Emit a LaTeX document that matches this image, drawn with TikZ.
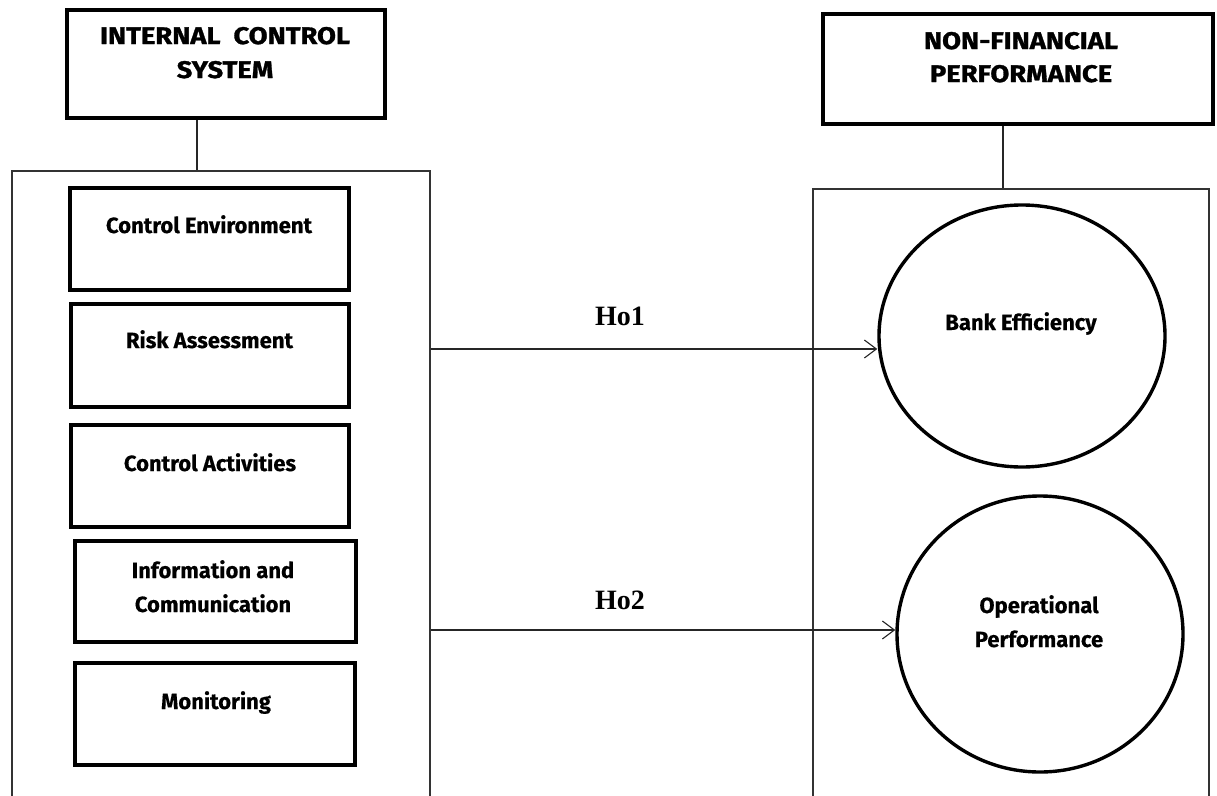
\documentclass[tikz,border=0pt]{standalone}
\usepackage{fontspec}
\usetikzlibrary{arrows.meta,shapes.geometric}
\newfontfamily\hdfont[FakeStretch=1.14,FakeBold=1.2]{Fira Sans}
\newfontfamily\lblfont[FakeBold=0.4]{Fira Sans}
\newfontfamily\hofont{Liberation Serif}
\begin{document}
\begin{tikzpicture}[x=1pt,y=-1pt,
  thickbox/.style={draw=black,line width=3.8pt,rectangle,inner sep=0pt},
  outerbox/.style={draw=black!80,line width=1.3pt,rectangle,inner sep=0pt},
  ell/.style={draw=black,line width=3.4pt,ellipse,inner sep=0pt},
  hdtxt/.style={font=\hdfont\bfseries\fontsize{24}{34}\selectfont,inner sep=0pt,anchor=base},
  lbl/.style={font=\lblfont\bfseries\fontsize{22}{34}\selectfont,inner sep=0pt,anchor=base},
  hotxt/.style={font=\hofont\bfseries\fontsize{28}{30}\selectfont,inner sep=0pt,anchor=base},
  conn/.style={draw=black!85,line width=1.3pt},
  arr/.style={draw=black!85,line width=1.3pt,-{Straight Barb[length=12pt,width=18pt,line width=1.1pt]}}
]
\useasboundingbox (0,0) rectangle (1217,795);
\fill[white] (0,0) rectangle (1217,795);
\clip (0,0) rectangle (1217,795);

% headers
\node[thickbox,minimum width=318,minimum height=108] (ics) at (226,64) {};
\node[hdtxt] (icsa) at (225,44) {INTERNAL\ \ CONTROL};
\node[hdtxt] (icsb) at (225,78) {SYSTEM};
\node[thickbox,minimum width=390,minimum height=110] (nfp) at (1018,69) {};
\node[hdtxt] (nfpa) at (1021,49) {NON-FINANCIAL};
\node[hdtxt] (nfpb) at (1021,82) {PERFORMANCE};

% outer boxes (open at the bottom)
\node[outerbox,minimum width=418,minimum height=660] (lbox) at (221,501) {};
\node[outerbox,minimum width=396,minimum height=640] (rbox) at (1011,509) {};

\draw[conn] (ics.south -| 197,0) -- (lbox.north -| 197,0);
\draw[conn] (nfp.south -| 1003,0) -- (rbox.north -| 1003,0);

% left boxes
\node[thickbox,minimum width=279,minimum height=102] (ce) at (209.5,239) {};
\node[lbl] (cet) at (209,233) {Control Environment};
\node[thickbox,minimum width=278,minimum height=103] (ra) at (210,355.5) {};
\node[lbl] (rat) at (209.5,348) {Risk Assessment};
\node[thickbox,minimum width=278,minimum height=102] (ca) at (210,476) {};
\node[lbl] (cat) at (210,471) {Control Activities};
\node[thickbox,minimum width=281,minimum height=101] (ic) at (215.5,591.5) {};
\node[lbl] (ict1) at (213,578) {Information and};
\node[lbl] (ict2) at (213,612) {Communication};
\node[thickbox,minimum width=280,minimum height=102] (mo) at (215,714) {};
\node[lbl] (mot) at (216,709) {Monitoring};

% ellipses
\node[ell,minimum width=286,minimum height=262] (be) at (1022,336) {};
\node[lbl] (bet) at (1021,330) {Bank Efficiency};
\node[ell,minimum width=286,minimum height=276] (op) at (1040,634) {};
\node[lbl] (opt1) at (1039,613) {Operational};
\node[lbl] (opt2) at (1039,647) {Performance};

% arrows
\coordinate (a1) at (lbox.east |- 0,349);
\coordinate (a2) at (lbox.east |- 0,630);
\draw[arr] (a1) -- (a1 -| be.west);
\draw[arr] (a2) -- (a2 -| op.west);
\node[hotxt] (h1) at (620,325) {Ho1};
\node[hotxt] (h2) at (620,609) {Ho2};
\end{tikzpicture}
\end{document}
